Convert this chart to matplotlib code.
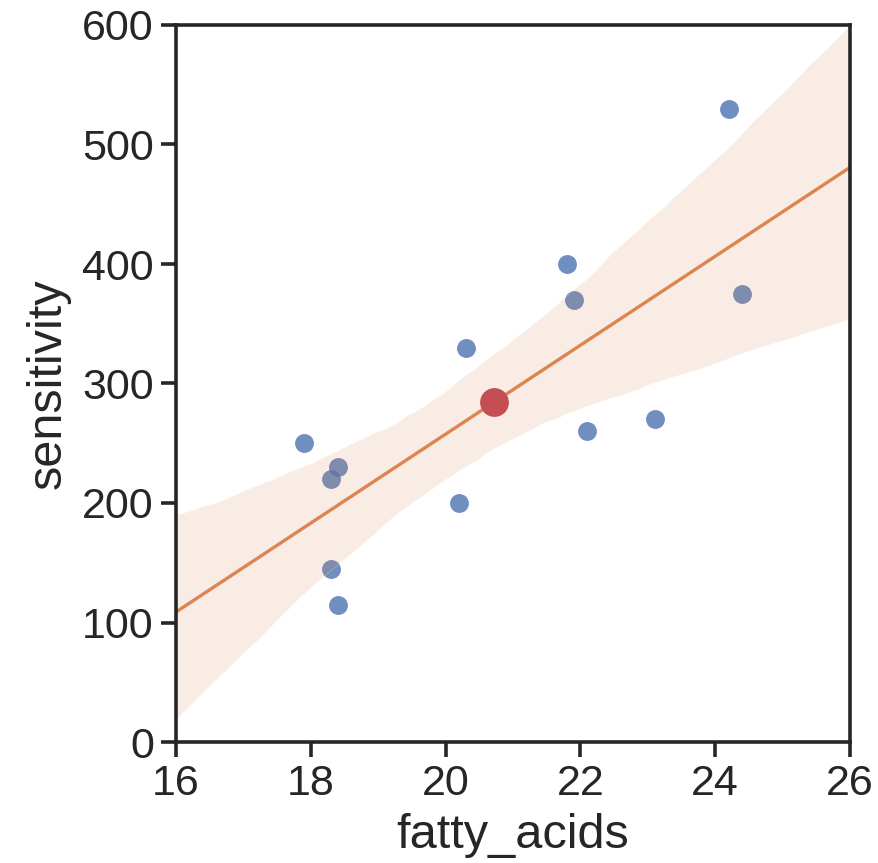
import numpy as np
import pandas as pd
import matplotlib
matplotlib.use("Agg")
import matplotlib.pyplot as plt
import seaborn as sns

fatty_acids = [17.9, 18.3, 18.4, 18.3, 18.4, 20.2, 20.3, 21.8, 21.9, 22.1, 23.1, 24.2, 24.4]
sensitivity = [250, 220, 230, 145, 115, 200, 330, 400, 370, 260, 270, 530, 375]

df = pd.DataFrame({"fatty_acids": fatty_acids, "sensitivity": sensitivity})

sns.set_theme(style="ticks")
plt.rcParams["font.family"] = ["Liberation Sans", "DejaVu Sans"]
plt.rcParams["axes.linewidth"] = 2.6
plt.rcParams["xtick.major.width"] = 2.6
plt.rcParams["ytick.major.width"] = 2.6
plt.rcParams["xtick.major.size"] = 11
plt.rcParams["ytick.major.size"] = 11
plt.rcParams["xtick.major.pad"] = 5
plt.rcParams["ytick.major.pad"] = 5

fig = plt.figure(figsize=(8.79, 8.63), dpi=100)
ax = fig.add_axes([176 / 879, 1 - 742 / 863, (850 - 176) / 879, (742 - 25) / 863])
ax.set_xlim(16, 26)
ax.set_ylim(0, 600)

blue, orange, red = sns.color_palette("deep")[0], sns.color_palette("deep")[1], sns.color_palette("deep")[3]
sns.regplot(data=df, x="fatty_acids", y="sensitivity", ax=ax, truncate=False, seed=3,
            scatter_kws={"s": 185, "color": blue, "linewidths": 0},
            line_kws={"color": orange, "lw": 2.4})
ax.scatter(np.mean(fatty_acids), np.mean(sensitivity), s=430, color=red, zorder=5, linewidths=0)

ax.set_xlim(16, 26)
ax.set_ylim(0, 600)
ax.set_xticks([16, 18, 20, 22, 24, 26])
ax.set_yticks([0, 100, 200, 300, 400, 500, 600])
ax.tick_params(labelsize=31, colors="#262626")
ax.set_xlabel("fatty_acids", fontsize=35, color="#262626", labelpad=6)
ax.set_ylabel("sensitivity", fontsize=35, color="#262626", labelpad=8)

fig.savefig("out.png", dpi=100)
